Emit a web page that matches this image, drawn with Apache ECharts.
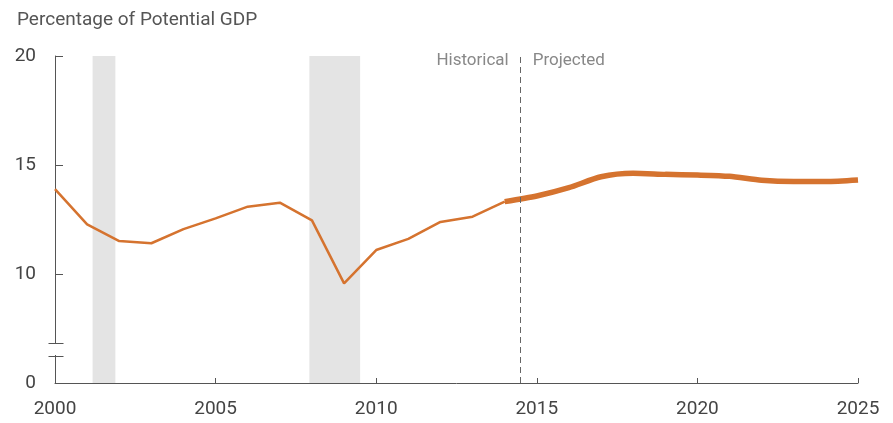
<!DOCTYPE html>
<html><head><meta charset="utf-8">
<script src="https://cdn.jsdelivr.net/npm/echarts@6/dist/echarts.min.js"></script>
<style>html,body{margin:0;padding:0;background:#fff}#c{width:893px;height:423px}</style>
</head><body><div id="c"></div>
<script>
var histYears = [2000,2001,2002,2003,2004,2005,2006,2007,2008,2009,2010,2011,2012,2013,2014];
var histValues = [13.89,12.28,11.51,11.41,12.06,12.55,13.09,13.27,12.46,9.57,11.1,11.61,12.39,12.63,13.32];
var projYears = [2014,2015,2016,2017,2018,2019,2020,2021,2022,2023,2024,2025];
var projValues = [13.32,13.58,13.96,14.46,14.62,14.57,14.54,14.48,14.3,14.24,14.24,14.31];
var recessions = [[2001.17,2001.88],[2007.92,2009.5]];
var divideYear = 2014.5;
var yTicks = [5,10,15,20];
var yTickLabels = ['0','10','15','20'];
var xTicks = [2000,2005,2010,2015,2020,2025];

var FONT = 'Roboto,"Liberation Sans",sans-serif';
var ORANGE = '#d5732f';
var AXIS = '#555';

var chart = echarts.init(document.getElementById('c'));
function pairs(xs, ys){ return xs.map(function(x,i){return [x, ys[i]];}); }

chart.setOption({
  animation:false,
  grid:{left:55,right:35,top:56,bottom:40},
  title:{text:'Percentage of Potential GDP',left:12,top:6,
    textStyle:{fontFamily:FONT,fontSize:19,fontWeight:'normal',color:'#555'}},
  xAxis:{type:'value',min:2000,max:2025,interval:5,
    axisLine:{lineStyle:{color:AXIS,width:1}},
    axisTick:{show:true,inside:true,length:5,lineStyle:{color:AXIS}},
    splitLine:{show:false},
    axisLabel:{fontFamily:FONT,fontSize:19,color:'#444',margin:17,
      formatter:function(v){return String(v);}}},
  yAxis:{type:'value',min:5,max:20,interval:5,
    axisLine:{show:true,lineStyle:{color:AXIS,width:1}},
    axisTick:{show:true,inside:true,length:8,lineStyle:{color:AXIS}},
    splitLine:{show:false},
    axisLabel:{fontFamily:FONT,fontSize:19,color:'#444',margin:19,
      formatter:function(v){var i=yTicks.indexOf(v);return i>=0?yTickLabels[i]:'';}}},
  series:[
    {type:'line',name:'hist',data:pairs(histYears,histValues),symbol:'none',
     lineStyle:{color:ORANGE,width:2.5},z:3,
     markArea:{silent:true,itemStyle:{color:'#e4e4e4'},
       data:recessions.map(function(r){return [{xAxis:r[0]},{xAxis:r[1]}];})},
     markLine:{silent:true,symbol:'none',label:{show:false},
       lineStyle:{color:'#666',type:[6,4],width:1},
       data:[{xAxis:divideYear}]}},
    {type:'line',name:'proj',data:pairs(projYears,projValues),symbol:'none',smooth:0.25,
     lineStyle:{color:ORANGE,width:5.5,cap:'butt'},z:4}
  ]
});

function drawExtras(){
  var xd = chart.convertToPixel({gridIndex:0},[divideYear,20]);
  var a = chart.convertToPixel({gridIndex:0},[2000,5]);
  var axX = Math.round(a[0])+0.5;
  var yb1 = a[1]-40, yb2 = a[1]-27;
  chart.setOption({graphic:[
    {type:'text',right:893-(xd[0]-12),top:52,style:{text:'Historical',fill:'#888',font:'17px '+FONT}},
    {type:'text',left:xd[0]+12,top:52,style:{text:'Projected',fill:'#888',font:'17px '+FONT}},
    {type:'rect',shape:{x:axX-3,y:yb1+1,width:6,height:yb2-yb1-2},style:{fill:'#fff'},z:100},
    {type:'line',shape:{x1:axX-7,y1:Math.round(yb1)+0.5,x2:axX+8,y2:Math.round(yb1)+0.5},style:{stroke:AXIS,lineWidth:1},z:101},
    {type:'line',shape:{x1:axX-7,y1:Math.round(yb2)+0.5,x2:axX+8,y2:Math.round(yb2)+0.5},style:{stroke:AXIS,lineWidth:1},z:101}
  ]});
}
drawExtras();
</script></body></html>
